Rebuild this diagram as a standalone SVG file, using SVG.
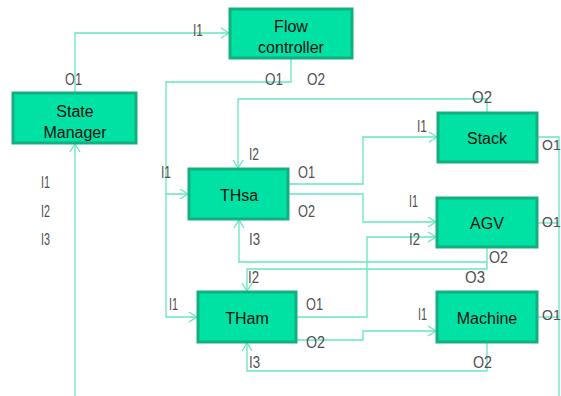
<svg xmlns="http://www.w3.org/2000/svg" width="561" height="396" viewBox="0 0 561 396">
<style>
.box{fill:#00E2A4;stroke:#12B07E;stroke-width:3}
.nt{font-family:"Liberation Sans",Arial,sans-serif;font-size:16px;fill:#111;text-anchor:middle}
.lb{font-family:"Liberation Sans",Arial,sans-serif;font-size:16px;fill:#505050}
.rl{font-family:"Liberation Sans",Arial,sans-serif;font-size:14px;fill:#505050}
.ln{fill:none;stroke:#66E6C2;stroke-width:1.3}
</style>
<defs>
<marker id="ar" markerUnits="userSpaceOnUse" markerWidth="12" markerHeight="12" viewBox="0 0 12 12" refX="10" refY="6" orient="auto">
<path d="M2,1 L10,6 L2,11" fill="none" stroke="#66E6C2" stroke-width="1.3"/>
</marker>
</defs>
<rect width="561" height="396" fill="#fff"/>
<g id="connectors">
<polyline class="ln" points="75,93 75,33 229,33" marker-end="url(#ar)"/>
<polyline class="ln" points="75,396 75,144" marker-end="url(#ar)"/>
<polyline class="ln" points="291,58 291,82 166,82 166,194 188,194" marker-end="url(#ar)"/>
<polyline class="ln" points="166,194 166,317 197,317" marker-end="url(#ar)"/>
<polyline class="ln" points="487,113 487,99 238,99 238,168" marker-end="url(#ar)"/>
<polyline class="ln" points="288,184 363,184 363,137 437,137" marker-end="url(#ar)"/>
<polyline class="ln" points="288,194 363,194 363,222 436,222" marker-end="url(#ar)"/>
<polyline class="ln" points="296,317 367,317 367,237 436,237" marker-end="url(#ar)"/>
<polyline class="ln" points="296,340 363,340 363,331 436,331" marker-end="url(#ar)"/>
<polyline class="ln" points="487,247 487,262 239,262 239,220" marker-end="url(#ar)"/>
<polyline class="ln" points="487,262 487,269 247,269 247,291" marker-end="url(#ar)"/>
<polyline class="ln" points="487,342 487,371 247,371 247,343" marker-end="url(#ar)"/>
<polyline class="ln" points="537,137 559,137 559,396"/>
<polyline class="ln" points="537,223 559,223"/>
<polyline class="ln" points="537,317 559,317"/>
</g>
<g id="flow-controller">
<rect class="box" x="230" y="9" width="122" height="49"/>
<text class="nt" x="291" y="32">Flow</text>
<text class="nt" x="291" y="53">controller</text>
</g>
<g id="state-manager">
<rect class="box" x="13" y="93" width="123" height="50"/>
<text class="nt" x="75" y="117">State</text>
<text class="nt" x="75" y="138">Manager</text>
</g>
<g id="thsa">
<rect class="box" x="189" y="169" width="99" height="50"/>
<text class="nt" x="239" y="201">THsa</text>
</g>
<g id="stack">
<rect class="box" x="438" y="113" width="99" height="49"/>
<text class="nt" x="487" y="144">Stack</text>
</g>
<g id="agv">
<rect class="box" x="437" y="198" width="100" height="49"/>
<text class="nt" x="487" y="229">AGV</text>
</g>
<g id="tham">
<rect class="box" x="198" y="292" width="98" height="50"/>
<text class="nt" x="247" y="324">THam</text>
</g>
<g id="machine">
<rect class="box" x="437" y="292" width="100" height="50"/>
<text class="nt" x="487" y="324">Machine</text>
</g>
<g id="labels">
<text class="lb" x="193" y="36" textLength="10" lengthAdjust="spacingAndGlyphs">I1</text>
<text class="lb" x="65" y="85" textLength="17" lengthAdjust="spacingAndGlyphs">O1</text>
<text class="lb" x="265" y="85" textLength="18" lengthAdjust="spacingAndGlyphs">O1</text>
<text class="lb" x="307" y="85" textLength="18" lengthAdjust="spacingAndGlyphs">O2</text>
<text class="lb" x="472" y="103" textLength="20" lengthAdjust="spacingAndGlyphs">O2</text>
<text class="lb" x="417" y="132" textLength="10" lengthAdjust="spacingAndGlyphs">I1</text>
<text class="lb" x="249" y="160" textLength="10" lengthAdjust="spacingAndGlyphs">I2</text>
<text class="lb" x="161" y="178" textLength="10" lengthAdjust="spacingAndGlyphs">I1</text>
<text class="lb" x="298" y="178" textLength="17" lengthAdjust="spacingAndGlyphs">O1</text>
<text class="rl" x="542" y="150">O1</text>
<text class="lb" x="41" y="188" textLength="9" lengthAdjust="spacingAndGlyphs">I1</text>
<text class="lb" x="409" y="207" textLength="9" lengthAdjust="spacingAndGlyphs">I1</text>
<text class="lb" x="298" y="217" textLength="17" lengthAdjust="spacingAndGlyphs">O2</text>
<text class="lb" x="41" y="217" textLength="9" lengthAdjust="spacingAndGlyphs">I2</text>
<text class="rl" x="542" y="227">O1</text>
<text class="lb" x="249" y="245" textLength="11" lengthAdjust="spacingAndGlyphs">I3</text>
<text class="lb" x="409" y="245" textLength="11" lengthAdjust="spacingAndGlyphs">I2</text>
<text class="lb" x="41" y="245" textLength="9" lengthAdjust="spacingAndGlyphs">I3</text>
<text class="lb" x="489" y="263" textLength="19" lengthAdjust="spacingAndGlyphs">O2</text>
<text class="lb" x="248" y="283" textLength="11" lengthAdjust="spacingAndGlyphs">I2</text>
<text class="lb" x="465" y="283" textLength="20" lengthAdjust="spacingAndGlyphs">O3</text>
<text class="lb" x="169" y="310" textLength="9" lengthAdjust="spacingAndGlyphs">I1</text>
<text class="lb" x="306" y="310" textLength="17" lengthAdjust="spacingAndGlyphs">O1</text>
<text class="lb" x="418" y="320" textLength="9" lengthAdjust="spacingAndGlyphs">I1</text>
<text class="rl" x="542" y="320">O1</text>
<text class="lb" x="306" y="348" textLength="19" lengthAdjust="spacingAndGlyphs">O2</text>
<text class="lb" x="249" y="368" textLength="11" lengthAdjust="spacingAndGlyphs">I3</text>
<text class="lb" x="473" y="368" textLength="19" lengthAdjust="spacingAndGlyphs">O2</text>
</g>
</svg>
